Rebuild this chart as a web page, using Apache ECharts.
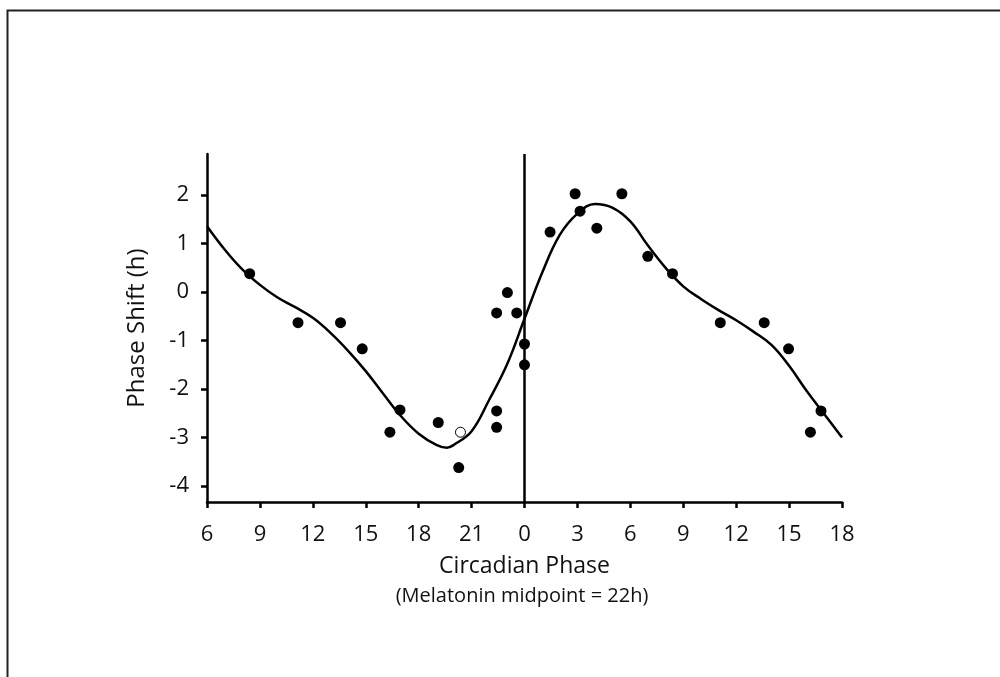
<!DOCTYPE html>
<html>
<head>
<meta charset="utf-8">
<script src="https://cdn.jsdelivr.net/npm/echarts@6/dist/echarts.min.js"></script>
<style>
  html, body { margin: 0; padding: 0; background: #fff; }
  #chart { width: 1000px; height: 677px; }
</style>
</head>
<body>
<div id="chart"></div>
<script>
// Circadian phase on a continuous 36 h scale (6 .. 42); labels wrap at 24 h.
const xTicks = [6, 9, 12, 15, 18, 21, 24, 27, 30, 33, 36, 39, 42];
const yTicks = [-4, -3, -2, -1, 0, 1, 2];

// Individual phase shifts (filled markers)
const shiftX = [8.42, 11.16, 13.57, 14.80, 16.37, 16.94, 19.11, 20.27, 22.42, 22.42, 22.42, 23.03, 23.56, 24.0, 24.0,
                25.45, 26.87, 27.15, 28.10, 29.52, 30.99, 32.39, 35.10, 37.59, 38.97, 40.21, 40.81];
const shiftY = [0.38, -0.63, -0.63, -1.17, -2.89, -2.43, -2.69, -3.62, -0.43, -2.45, -2.79, -0.01, -0.43, -1.07, -1.50,
                1.24, 2.03, 1.67, 1.32, 2.03, 0.74, 0.38, -0.63, -0.63, -1.17, -2.89, -2.45];

// Open marker
const openX = [20.37];
const openY = [-2.89];

// Fitted phase response curve
const curveX = [6, 7, 8, 9, 10, 11, 12, 13, 14, 15, 16, 17, 18, 19, 19.6, 20, 21, 22, 23, 24,
                25, 26, 27, 28, 29, 30, 31, 32, 33, 34, 35, 36, 37, 38, 39, 40, 41, 42];
const curveY = [1.36, 0.88, 0.47, 0.15, -0.11, -0.31, -0.53, -0.84, -1.21, -1.63, -2.10, -2.56, -2.92, -3.15, -3.21, -3.15, -2.87, -2.22, -1.50, -0.55,
                0.40, 1.18, 1.62, 1.82, 1.74, 1.46, 0.96, 0.50, 0.12, -0.14, -0.37, -0.58, -0.82, -1.09, -1.52, -2.04, -2.52, -3.00];

const pairs = (xs, ys) => xs.map((x, i) => [x, ys[i]]);

const FONT = '"Open Sans", "Noto Sans", sans-serif';
const INK = '#000';

const chart = echarts.init(document.getElementById('chart'), null, { renderer: 'canvas' });

chart.setOption({
  animation: false,
  backgroundColor: '#fff',
  grid: { left: 207, right: 158, top: 154, bottom: 175, containLabel: false },
  xAxis: {
    type: 'value',
    min: 6,
    max: 42,
    interval: 3,
    name: 'Circadian Phase',
    nameLocation: 'middle',
    nameGap: 53,
    nameTextStyle: { fontFamily: FONT, fontSize: 23, color: '#111' },
    axisLine: { show: true, onZero: false, lineStyle: { color: INK, width: 2.5 } },
    axisTick: { show: true, inside: false, length: 6, customValues: xTicks, lineStyle: { color: INK, width: 2.5 } },
    axisLabel: {
      customValues: xTicks,
      margin: 22,
      fontFamily: FONT, fontSize: 22, color: '#111',
      formatter: v => String(Math.round(v) % 24)
    },
    splitLine: { show: false }
  },
  yAxis: {
    type: 'value',
    min: -4.33,
    max: 2.85,
    name: 'Phase Shift (h)',
    nameLocation: 'middle',
    nameGap: 58,
    nameRotate: 90,
    nameTextStyle: { fontFamily: FONT, fontSize: 24, color: '#111' },
    axisLine: { show: true, onZero: false, lineStyle: { color: INK, width: 2.5 } },
    axisTick: { show: true, inside: false, length: 6, customValues: yTicks, lineStyle: { color: INK, width: 2.5 } },
    axisLabel: {
      customValues: yTicks,
      margin: 18,
      fontFamily: FONT, fontSize: 22, color: '#111'
    },
    splitLine: { show: false }
  },
  graphic: [
    {
      type: 'rect',
      left: 5, top: 8,
      shape: { width: 1000, height: 700 },
      style: { fill: 'none', stroke: '#222', lineWidth: 2 },
      silent: true, z: 100
    },
    {
      type: 'text',
      x: 522, y: 596,
      style: {
        text: '(Melatonin midpoint = 22h)',
        fontFamily: FONT, fontSize: 20, fill: '#111',
        textAlign: 'center', textVerticalAlign: 'middle'
      },
      silent: true
    }
  ],
  series: [
    {
      name: 'curve',
      type: 'line',
      data: pairs(curveX, curveY),
      smooth: 0.4,
      showSymbol: false,
      symbol: 'none',
      lineStyle: { color: INK, width: 2.5 },
      z: 2,
      markLine: {
        silent: true,
        symbol: 'none',
        label: { show: false },
        lineStyle: { color: INK, width: 2.5, type: 'solid' },
        data: [{ xAxis: 24 }]
      }
    },
    {
      name: 'shifts',
      type: 'scatter',
      data: pairs(shiftX, shiftY),
      symbol: 'circle',
      symbolSize: 11,
      itemStyle: { color: INK, opacity: 1 },
      z: 3
    },
    {
      name: 'open',
      type: 'scatter',
      data: pairs(openX, openY),
      symbol: 'circle',
      symbolSize: 10,
      itemStyle: { color: '#fff', borderColor: INK, borderWidth: 1, opacity: 1 },
      z: 4
    }
  ]
});
</script>
</body>
</html>
